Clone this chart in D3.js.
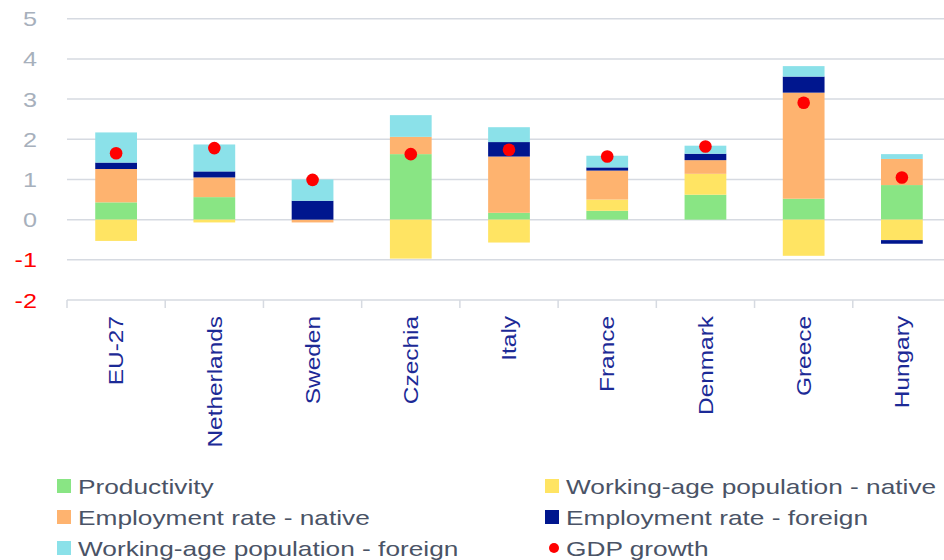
<!DOCTYPE html>
<html>
<head>
<meta charset="utf-8">
<script src="https://cdn.jsdelivr.net/npm/d3@7"></script>
<style>
    body { margin: 0; background: #fff; }
    text { font-family: "Liberation Sans", Arial, sans-serif; }
</style>
</head>
<body>
<div id="chart"></div>
<script>
// values (percentage points)
const categories = ["EU-27", "Netherlands", "Sweden", "Czechia", "Italy", "France", "Denmark", "Greece", "Hungary"]
const productivity = [0.43, 0.56, 0, 1.63, 0.17, 0.22, 0.62, 0.52, 0.86]
const wapNative = [-0.53, -0.07, 0, -0.97, -0.57, 0.28, 0.52, -0.90, -0.51]
const empNative = [0.83, 0.49, -0.07, 0.43, 1.40, 0.72, 0.34, 2.64, 0.65]
const empForeign = [0.16, 0.15, 0.47, 0, 0.36, 0.08, 0.16, 0.40, -0.09]
const wapForeign = [0.75, 0.67, 0.53, 0.54, 0.37, 0.29, 0.20, 0.26, 0.12]
const gdpGrowth = [1.65, 1.78, 0.99, 1.63, 1.74, 1.57, 1.82, 2.91, 1.05]
const yTicks = [-2, -1, 0, 1, 2, 3, 4, 5]

const seriesKeys = ["prod", "wapN", "empN", "empF", "wapF"]
const seriesNames = ["Productivity", "Working-age population - native", "Employment rate - native",
    "Employment rate - foreign", "Working-age population - foreign"]
const seriesColors = ["#89e584", "#ffe463", "#feb36f", "#00168e", "#8be1e9"]

const rows = categories.map((c, i) => ({
    cat: c, prod: productivity[i], wapN: wapNative[i], empN: empNative[i],
    empF: empForeign[i], wapF: wapForeign[i], gdp: gdpGrowth[i]
}))

const W = 944, H = 560
const svg = d3.select('#chart').append('svg')
    .attr('width', W)
    .attr('height', H)

// stretch text along its baseline a bit, the source font is wide
const stretch = (sel, k) => sel.each(function () {
    let len = this.getComputedTextLength()
    d3.select(this).attr('textLength', len * k).attr('lengthAdjust', 'spacingAndGlyphs')
})

let x = d3.scaleBand().domain(categories).range([67, 951]).paddingInner(0.575).paddingOuter(0.2875)
let xOuter = d3.scaleBand().domain(categories).range([67, 951])
let y = d3.scaleLinear().domain([-2, 5]).range([300, 18.7])

// gridlines
svg.append('g').selectAll('line').data(yTicks)
    .enter().append('line')
    .attr('x1', 67).attr('x2', W)
    .attr('y1', d => y(d)).attr('y2', d => y(d))
    .attr('stroke', '#d6dae1')
    .attr('stroke-width', 1.5)

// category ticks on the bottom line
svg.append('g').selectAll('line').data(categories)
    .enter().append('line')
    .attr('x1', d => xOuter(d)).attr('x2', d => xOuter(d))
    .attr('y1', y(-2)).attr('y2', y(-2) + 8)
    .attr('stroke', '#d6dae1')
    .attr('stroke-width', 1.5)

// y labels
svg.append('g').selectAll('text').data(yTicks)
    .enter().append('text')
    .attr('x', 37)
    .attr('y', d => y(d))
    .attr('dy', '0.36em')
    .attr('text-anchor', 'end')
    .attr('font-size', 21)
    .attr('fill', d => d < 0 ? '#ff0000' : '#a7b0bc')
    .text(d => d)
    .call(stretch, 1.2)

// stacked bars
let stack = d3.stack().keys(seriesKeys).offset(d3.stackOffsetDiverging)
let stacked = stack(rows)

svg.append('g').selectAll('g').data(stacked)
    .enter().append('g')
    .attr('fill', (d, i) => seriesColors[i])
    .selectAll('rect').data(d => d)
    .enter().append('rect')
    .attr('x', d => x(d.data.cat))
    .attr('width', x.bandwidth())
    .attr('y', d => y(Math.max(d[0], d[1])))
    .attr('height', d => Math.abs(y(d[0]) - y(d[1])))

// gdp dots
svg.append('g').selectAll('circle').data(rows)
    .enter().append('circle')
    .attr('cx', d => x(d.cat) + x.bandwidth() / 2)
    .attr('cy', d => y(d.gdp))
    .attr('r', 6.3)
    .attr('fill', '#ff0000')

// category labels
svg.append('g').selectAll('text').data(categories)
    .enter().append('text')
    .attr('transform', d => `translate(${xOuter(d) + xOuter.bandwidth() / 2},316) rotate(-90)`)
    .attr('dy', '0.36em')
    .attr('text-anchor', 'end')
    .attr('font-size', 20)
    .attr('fill', '#1c2a96')
    .text(d => d)
    .call(stretch, 1.22)

// legend, filled row by row
let legendItems = seriesNames.map((n, i) => ({ name: n, color: seriesColors[i], dot: false }))
legendItems.push({ name: "GDP growth", color: '#ff0000', dot: true })

const legend = svg.append('g').selectAll('g').data(legendItems)
    .enter().append('g')
    .attr('transform', (d, i) => `translate(${i % 2 == 0 ? 57 : 545},${486 + Math.floor(i / 2) * 31})`)

legend.filter(d => !d.dot).append('rect')
    .attr('x', 0).attr('y', -7)
    .attr('width', 14).attr('height', 14)
    .attr('fill', d => d.color)

legend.filter(d => d.dot).append('circle')
    .attr('cx', 9).attr('cy', 0)
    .attr('r', 5)
    .attr('fill', d => d.color)

legend.append('text')
    .attr('x', 21)
    .attr('dy', '0.36em')
    .attr('font-size', 21)
    .attr('fill', '#4a5366')
    .text(d => d.name)
    .call(stretch, 1.25)
</script>
</body>
</html>
